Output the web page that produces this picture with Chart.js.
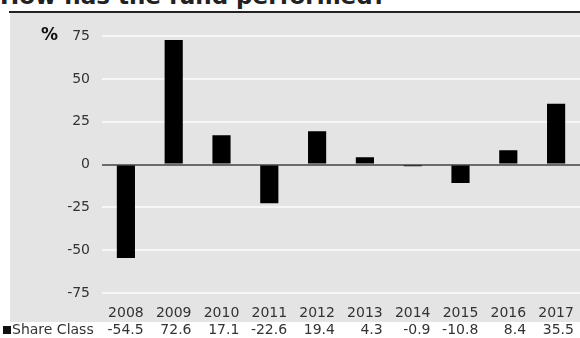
<!DOCTYPE html>
<html>
<head>
<meta charset="utf-8">
<script src="https://cdn.jsdelivr.net/npm/chart.js@4"></script>
<style>
  html, body { margin: 0; padding: 0; background: #fff; }
  body { width: 580px; height: 338px; position: relative; overflow: hidden; font-family: "DejaVu Sans", Verdana, sans-serif; }
  #title { position: absolute; left: 0; top: -17px; margin: 0; font-size: 23px; font-weight: bold; color: #222; white-space: nowrap; }
  #rule { position: absolute; left: 9px; top: 11px; width: 571px; height: 2px; background: #222; }
  #panel { position: absolute; left: 10px; top: 13px; width: 570px; height: 309px; background: #e4e4e4; }
  #wrap { position: absolute; left: 0; top: 0; width: 580px; height: 338px; }
</style>
</head>
<body>
<h2 id="title">How has the fund performed?</h2>
<div id="rule"></div>
<div id="panel"></div>
<div id="wrap"><canvas id="perf_chart"></canvas></div>
<script>
const years = ['2008', '2009', '2010', '2011', '2012', '2013', '2014', '2015', '2016', '2017'];
const shareClass = [-54.5, 72.6, 17.1, -22.6, 19.4, 4.3, -0.9, -10.8, 8.4, 35.5];
const yTicks = [-75, -50, -25, 0, 25, 50, 75];
const seriesName = 'Share Class';

const FONT = '"DejaVu Sans", Verdana, sans-serif';

// draws the "%" unit and the values row under the years
const tablePlugin = {
  id: 'table',
  afterDraw(chart) {
    const ctx = chart.ctx;
    const x = chart.scales.x;
    ctx.save();
    ctx.font = 'bold 17px ' + FONT;
    ctx.fillStyle = '#111';
    ctx.textAlign = 'left';
    ctx.textBaseline = 'middle';
    ctx.fillText('%', 41, 36);

    ctx.font = '14px ' + FONT;
    ctx.fillStyle = '#111';
    ctx.fillRect(3, 326, 8, 8);
    ctx.fillStyle = '#333';
    ctx.fillText(seriesName, 12, 330);

    ctx.textAlign = 'right';
    years.forEach((yr, i) => {
      const cx = x.getPixelForValue(i);
      const right = cx + ctx.measureText(yr).width / 2;
      ctx.fillText(shareClass[i].toFixed(1), right, 330);
    });
    ctx.restore();
  }
};

const data = {
  labels: years,
  datasets: [{
    label: seriesName,
    data: shareClass,
    backgroundColor: '#000',
    borderWidth: 0,
    barPercentage: 0.38,
    categoryPercentage: 1
  }]
};

const config = {
  type: 'bar',
  data: data,
  options: {
    responsive: false,
    animation: false,
    devicePixelRatio: 1,
    layout: { padding: { top: 36, right: 0, bottom: 4, left: 0 } },
    plugins: {
      legend: { display: false },
      tooltip: { enabled: false }
    },
    scales: {
      x: {
        afterFit(scale) { scale.paddingLeft = 0; scale.paddingRight = 0; },
        grid: { display: false, drawTicks: false },
        border: { display: false },
        ticks: { color: '#333', font: { family: FONT, size: 14 }, padding: 12, maxRotation: 0 }
      },
      y: {
        min: -75,
        max: 75,
        afterBuildTicks(scale) {
          scale.ticks = yTicks.map(v => ({ value: v }));
        },
        afterFit(scale) { scale.width = 102; },
        grid: {
          drawTicks: false,
          lineWidth: 2,
          color(ctx) { return ctx.tick && ctx.tick.value === 0 ? '#6b6b6b' : '#f6f6f6'; }
        },
        border: { display: false },
        ticks: { color: '#333', font: { family: FONT, size: 14 }, padding: 12 }
      }
    }
  },
  plugins: [tablePlugin]
};

const canvas = document.getElementById('perf_chart');
canvas.width = 580;
canvas.height = 338;
new Chart(canvas, config);
</script>
</body>
</html>
